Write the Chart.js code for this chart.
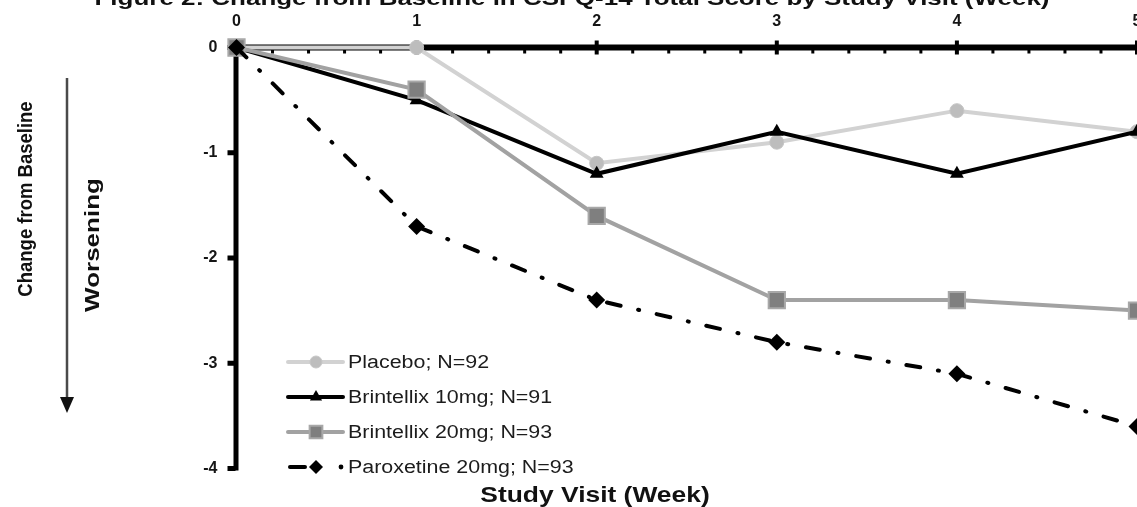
<!DOCTYPE html>
<html>
<head>
<meta charset="utf-8">
<script src="https://cdn.jsdelivr.net/npm/chart.js"></script>
<style>
  html, body { margin: 0; padding: 0; background: #fff; overflow: hidden; }
  #wrap { width: 1137px; height: 507px; }
</style>
</head>
<body>
<div id="wrap"><canvas id="csfq" width="1137" height="507"></canvas></div>
<script>
// values (week -> change from baseline)
const weeks = [0, 1, 2, 3, 4, 5];
const placebo = [0, 0, -1.1, -0.9, -0.6, -0.8];
const brint10 = [0, -0.5, -1.2, -0.8, -1.2, -0.8];
const brint20 = [0, -0.4, -1.6, -2.4, -2.4, -2.5];
const parox = [0, -1.7, -2.4, -2.8, -3.1, -3.6];

const seriesNames = ['Placebo; N=92', 'Brintellix 10mg; N=91', 'Brintellix 20mg; N=93', 'Paroxetine 20mg; N=93'];
const xTicks = [0, 1, 2, 3, 4, 5];
const yTicks = [0, -1, -2, -3, -4];

const titleText = 'Figure 2: Change from Baseline in CSFQ-14 Total Score by Study Visit (Week)';
const xTitle = 'Study Visit (Week)';
const yTitle = 'Change from Baseline';
const arrowText = 'Worsening';

function pts(vals) {
    return weeks.map((w, i) => ({ x: w, y: vals[i] }));
}

// draws text squeezed/stretched sideways like the scanned original
function drawText(ctx, text, x, y, font, opts) {
    opts = opts || {};
    ctx.save();
    ctx.font = font;
    ctx.fillStyle = opts.color || '#111';
    ctx.textAlign = opts.align || 'center';
    ctx.textBaseline = opts.baseline || 'alphabetic';
    ctx.translate(x, y);
    ctx.scale(opts.sx || 1, opts.sy || 1);
    if (opts.rotate) ctx.rotate(opts.rotate);
    ctx.fillText(text, 0, 0);
    ctx.restore();
}

function marker(ctx, style, x, y, r, fill, stroke, bw) {
    ctx.save();
    ctx.fillStyle = fill;
    ctx.strokeStyle = stroke;
    ctx.lineWidth = bw;
    ctx.beginPath();
    if (style === 'circle') {
        ctx.arc(x, y, r, 0, Math.PI * 2);
    } else if (style === 'triangle') {
        ctx.moveTo(x, y - r);
        ctx.lineTo(x + r * 0.87, y + r * 0.5);
        ctx.lineTo(x - r * 0.87, y + r * 0.5);
        ctx.closePath();
    } else if (style === 'rect') {
        const s = r * Math.SQRT1_2;
        ctx.rect(x - s, y - s, s * 2, s * 2);
    } else if (style === 'rectRot') {
        ctx.moveTo(x, y - r);
        ctx.lineTo(x + r, y);
        ctx.lineTo(x, y + r);
        ctx.lineTo(x - r, y);
        ctx.closePath();
    }
    ctx.fill();
    if (bw > 0) ctx.stroke();
    ctx.restore();
}

const axesPlugin = {
    id: 'axesPlugin',
    beforeDatasetsDraw(chart) {
        const ctx = chart.ctx;
        const xs = chart.scales.x, ys = chart.scales.y;
        const top = ys.getPixelForValue(0), bottom = ys.getPixelForValue(-4);
        const left = xs.getPixelForValue(0), right = xs.getPixelForValue(5);
        ctx.save();
        ctx.fillStyle = '#000';
        // axis lines
        ctx.fillRect(left - 3, top - 3, right - left + 6, 6);
        ctx.fillRect(left - 3, top - 3, 5, bottom - top + 5);
        // minor ticks every 0.2 week, pointing into the plot
        for (let v = 0.2; v < 5; v += 0.2) {
            if (Math.abs(v - Math.round(v)) < 0.01) continue;
            const px = xs.getPixelForValue(v);
            ctx.fillRect(px - 1.5, top + 2, 3, 4);
        }
        xTicks.forEach(v => {
            if (v === 0) return;
            const px = xs.getPixelForValue(v);
            ctx.fillRect(px - 2, top - 7, 4, 14);
        });
        yTicks.forEach(v => {
            const py = ys.getPixelForValue(v);
            ctx.fillRect(left - 9, py - 2.5, 8, 5);
        });
        ctx.restore();
    },
    afterDraw(chart) {
        const ctx = chart.ctx;
        // title, cut off at the top edge like the original
        ctx.save();
        ctx.font = 'bold 20px "Liberation Sans", Arial, sans-serif';
        const tw = ctx.measureText(titleText).width;
        ctx.restore();
        drawText(ctx, titleText, 572, 5, 'bold 20px "Liberation Sans", Arial, sans-serif', { sx: 955 / tw });

        drawText(ctx, xTitle, 595, 502, 'bold 22px "Liberation Sans", Arial, sans-serif', { sx: 1.2 });
        drawText(ctx, yTitle, 32, 199, 'bold 18.5px "Liberation Sans", Arial, sans-serif', { sx: 1.1, rotate: -Math.PI / 2 });
        drawText(ctx, arrowText, 99, 245, 'bold 26px "Liberation Sans", Arial, sans-serif', { sx: 0.8, rotate: -Math.PI / 2 });

        // arrow
        ctx.save();
        ctx.strokeStyle = '#4a4a4a';
        ctx.lineWidth = 2.5;
        ctx.beginPath();
        ctx.moveTo(67, 78);
        ctx.lineTo(67, 400);
        ctx.stroke();
        ctx.fillStyle = '#111';
        ctx.beginPath();
        ctx.moveTo(60, 397);
        ctx.lineTo(74, 397);
        ctx.lineTo(67, 413);
        ctx.closePath();
        ctx.fill();
        ctx.restore();

        // legend inside plot area
        const rowY = [362, 397, 432, 467];
        const x0 = 288, x1 = 343, xm = 316;
        chart.data.datasets.forEach((ds, i) => {
            const y = rowY[i];
            ctx.save();
            ctx.strokeStyle = ds.borderColor;
            ctx.lineWidth = ds.borderWidth;
            ctx.lineCap = 'round';
            if (ds.borderDash) {
                ctx.beginPath();
                ctx.moveTo(x0 + 2, y);
                ctx.lineTo(305, y);
                ctx.stroke();
                ctx.fillStyle = ds.borderColor;
                ctx.beginPath();
                ctx.arc(341, y, 2.4, 0, Math.PI * 2);
                ctx.fill();
            } else {
                ctx.beginPath();
                ctx.moveTo(x0, y);
                ctx.lineTo(x1, y);
                ctx.stroke();
            }
            ctx.restore();
            const r = ds.legendRadius;
            marker(ctx, ds.pointStyle, xm, y, r, ds.pointBackgroundColor, ds.pointBorderColor, ds.pointBorderWidth);
            drawText(ctx, seriesNames[i], 348, y + 6, '18px "Liberation Sans", Arial, sans-serif', { align: 'left', sx: 1.19, color: '#1c1c1c' });
        });
    }
};

const tickFont = { family: '"Liberation Sans", Arial, sans-serif', size: 16, weight: 'bold' };

const ctx = document.getElementById('csfq').getContext('2d');
new Chart(ctx, {
    type: 'line',
    data: {
        datasets: [
            {
                label: seriesNames[0],
                data: pts(placebo),
                borderColor: '#d2d2d2',
                borderWidth: 4,
                pointStyle: 'circle',
                pointRadius: 7,
                legendRadius: 6,
                pointBackgroundColor: '#bdbdbd',
                pointBorderColor: '#c6c6c6',
                pointBorderWidth: 1,
                order: 4
            },
            {
                label: seriesNames[1],
                data: pts(brint10),
                borderColor: '#000',
                borderWidth: 4,
                pointStyle: 'triangle',
                pointRadius: 8,
                legendRadius: 7,
                pointBackgroundColor: '#000',
                pointBorderColor: '#000',
                pointBorderWidth: 0,
                order: 3
            },
            {
                label: seriesNames[2],
                data: pts(brint20),
                borderColor: '#a2a2a2',
                borderWidth: 4,
                pointStyle: 'rect',
                pointRadius: 11.5,
                legendRadius: 9,
                pointBackgroundColor: '#7f7f7f',
                pointBorderColor: '#a8a8a8',
                pointBorderWidth: 2,
                order: 2
            },
            {
                label: seriesNames[3],
                data: pts(parox),
                borderColor: '#000',
                borderWidth: 4,
                borderDash: [14, 18, 1, 18],
                borderCapStyle: 'round',
                pointStyle: 'rectRot',
                pointRadius: 8.5,
                legendRadius: 7,
                pointBackgroundColor: '#000',
                pointBorderColor: '#000',
                pointBorderWidth: 0,
                order: 1
            }
        ]
    },
    options: {
        responsive: false,
        animation: false,
        clip: false,
        layout: { autoPadding: false, padding: { left: 0, right: 0, top: 0, bottom: 38.5 } },
        elements: { line: { tension: 0 } },
        scales: {
            x: {
                type: 'linear',
                position: 'top',
                min: 0,
                max: 5,
                afterBuildTicks(s) { s.ticks = xTicks.map(v => ({ value: v })); },
                ticks: { padding: 16, font: tickFont, color: '#151515', maxRotation: 0 },
                grid: { display: false, drawTicks: false },
                border: { display: false },
                afterFit(s) { s.height = 47.5; s.paddingLeft = 0; s.paddingRight = 0; }
            },
            y: {
                min: -4,
                max: 0,
                afterBuildTicks(s) { s.ticks = yTicks.map(v => ({ value: v })); },
                ticks: { padding: 19, font: tickFont, color: '#151515' },
                grid: { display: false, drawTicks: false },
                border: { display: false },
                afterFit(s) { s.width = 236.5; s.paddingTop = 0; s.paddingBottom = 0; }
            }
        },
        plugins: {
            legend: { display: false },
            tooltip: { enabled: false },
            title: { display: false }
        }
    },
    plugins: [axesPlugin]
});
</script>
</body>
</html>
